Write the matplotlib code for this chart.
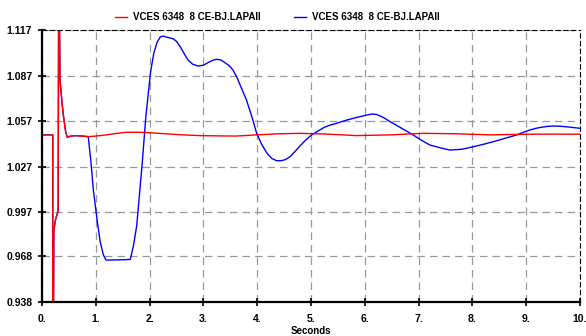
import matplotlib
matplotlib.use("Agg")
import matplotlib.pyplot as plt

plt.rcParams["font.family"] = ["Liberation Sans", "DejaVu Sans"]
plt.rcParams["font.weight"] = "bold"

# values
red_t = [0, 0.2, 0.2, 0.21, 0.22, 0.25, 0.30, 0.31, 0.32, 0.335, 0.37, 0.40,
         0.44, 0.47, 0.54, 0.61, 0.75, 0.86, 1.0, 1.2, 1.4, 1.57, 1.8, 2.0,
         2.3, 2.6, 2.94, 3.3, 3.6, 4.0, 4.4, 4.8, 5.3, 5.85, 6.5, 7.08, 7.7,
         8.33, 9.0, 9.5, 10.0]
red_v = [1.048, 1.048, 0.90, 0.90, 0.985, 0.992, 0.998, 1.14, 1.14, 1.084,
         1.070, 1.060, 1.050, 1.0464, 1.0472, 1.0475, 1.0472, 1.0468, 1.0472,
         1.048, 1.049, 1.0497, 1.0497, 1.0494, 1.0487, 1.048, 1.0475, 1.0473,
         1.0472, 1.048, 1.0487, 1.049, 1.0485, 1.0475, 1.048, 1.049, 1.0487,
         1.048, 1.0484, 1.0485, 1.0484]

blue_t = [0, 0.2, 0.2, 0.21, 0.22, 0.25, 0.30, 0.31, 0.32, 0.335, 0.37, 0.40,
          0.44, 0.47, 0.54, 0.61, 0.75, 0.86, 0.91, 0.954, 1.02, 1.08, 1.14,
          1.19, 1.4, 1.64, 1.70, 1.76, 1.86, 1.93, 2.02, 2.08, 2.14, 2.2,
          2.25, 2.33, 2.44, 2.50, 2.57, 2.65, 2.72, 2.8, 2.9, 3.0, 3.1, 3.18,
          3.25, 3.33, 3.4, 3.48, 3.55, 3.62, 3.68, 3.74, 3.80, 3.9, 3.99,
          4.08, 4.18, 4.27, 4.36, 4.45, 4.53, 4.61, 4.70, 4.80, 4.9, 5.01,
          5.13, 5.25, 5.36, 5.48, 5.64, 5.8, 5.97, 6.13, 6.22, 6.3, 6.38,
          6.47, 6.58, 6.7, 6.8, 6.90, 7.05, 7.21, 7.4, 7.58, 7.8, 8.02, 8.23,
          8.45, 8.63, 8.82, 8.95, 9.07, 9.18, 9.3, 9.40, 9.50, 9.62, 9.75,
          9.88, 10.0]
blue_v = [1.048, 1.048, 0.90, 0.90, 0.985, 0.992, 0.998, 1.14, 1.14, 1.084,
          1.070, 1.060, 1.050, 1.0464, 1.0472, 1.0475, 1.0472, 1.0468, 1.030,
          1.012, 0.993, 0.978, 0.969, 0.9656, 0.9657, 0.966, 0.975, 0.988,
          1.028, 1.060, 1.090, 1.102, 1.109, 1.1125, 1.113, 1.1122, 1.1112,
          1.1095, 1.106, 1.101, 1.097, 1.0945, 1.0933, 1.0938, 1.0958, 1.0972,
          1.0977, 1.0972, 1.0955, 1.0935, 1.0907, 1.086, 1.081, 1.076, 1.071,
          1.060, 1.049, 1.042, 1.036, 1.0325, 1.031, 1.031, 1.0318, 1.0336,
          1.037, 1.0409, 1.0445, 1.0479, 1.0505, 1.053, 1.0545, 1.0556, 1.0575,
          1.059, 1.0605, 1.0617, 1.0614, 1.0602, 1.0587, 1.0567, 1.0545, 1.052,
          1.050, 1.0479, 1.0445, 1.0413, 1.0395, 1.038, 1.0385, 1.0402, 1.042,
          1.0441, 1.046, 1.0479, 1.0497, 1.0512, 1.0523, 1.0531, 1.0536,
          1.0538, 1.0537, 1.0533, 1.0528, 1.0523]

label = "VCES 6348  8 CE-BJ.LAPAII"
y_ticks = [0.938, 0.968, 0.997, 1.027, 1.057, 1.087, 1.117]
x_ticks = list(range(0, 11))

fig = plt.figure(figsize=(5.86, 3.36), dpi=100)
ax = fig.add_axes([42 / 586, 1 - 302 / 336, 538 / 586, 272 / 336])

ax.plot(blue_t, blue_v, color="#0000ff", lw=1.0, label=label)
ax.plot(red_t, red_v, color="#ff0000", lw=1.0, label=label)

ax.set_xlim(0, 10)
ax.set_ylim(0.938, 1.117)
ax.set_xticks(x_ticks)
ax.set_xticklabels([f"{t}." for t in x_ticks])
ax.set_yticks(y_ticks)
ax.set_yticklabels([f"{v:.3f}" for v in y_ticks])
ax.tick_params(direction="inout", length=6, width=1.2, labelsize=7.5)
ax.tick_params(axis="x", pad=6)
ax.tick_params(axis="y", pad=4)

ax.grid(True, color="#999999", linestyle=(0, (6, 4)), linewidth=0.9)
for s in ("left", "bottom"):
    ax.spines[s].set_linewidth(1.6)
for s in ("top", "right"):
    ax.spines[s].set_linestyle((0, (4, 3)))
    ax.spines[s].set_linewidth(0.8)

ax.set_xlabel("Seconds", fontsize=7, fontweight="bold", labelpad=1)

h, l = ax.get_legend_handles_labels()
fig.legend(h[::-1], l[::-1], loc="center", bbox_to_anchor=(0.473, 0.949),
           ncol=2, frameon=False, fontsize=7, handlelength=1.2,
           handletextpad=0.6, columnspacing=3.5)

fig.savefig("out.png", dpi=100)
